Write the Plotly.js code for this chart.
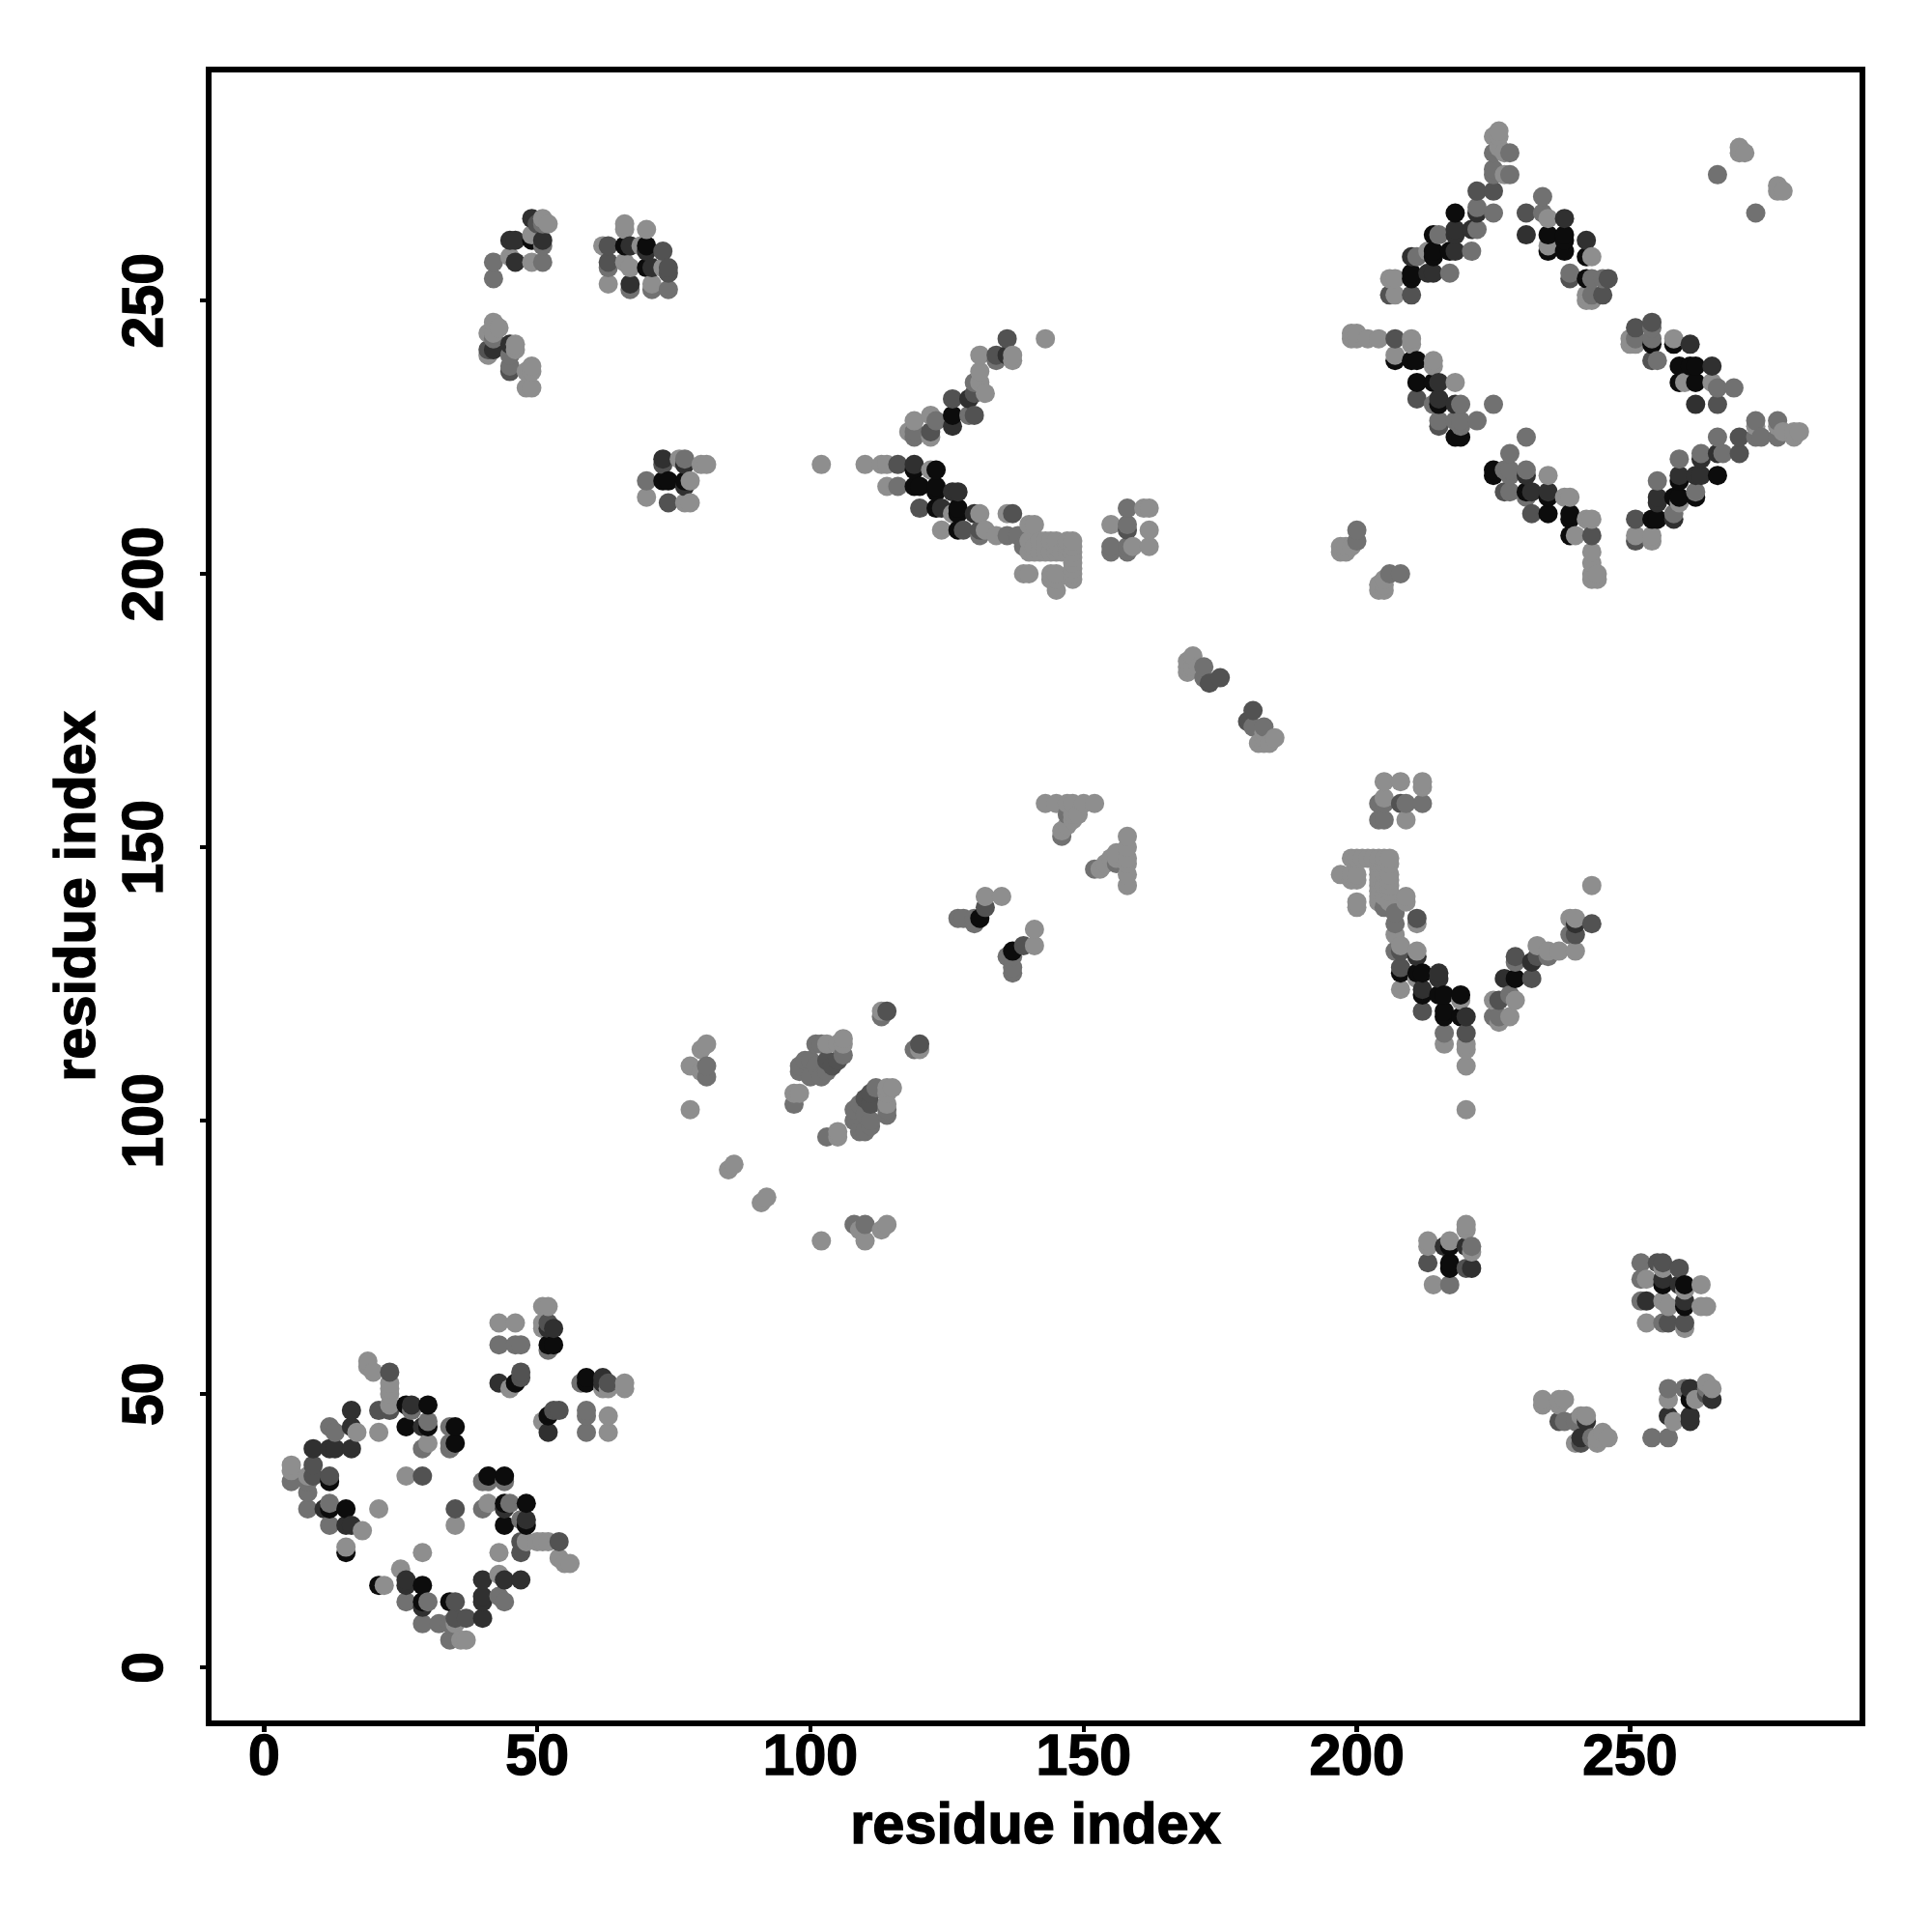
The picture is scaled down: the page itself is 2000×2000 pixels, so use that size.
<!DOCTYPE html>
<html>
<head>
<meta charset="utf-8">
<script src="https://cdn.plot.ly/plotly-3.0.1.min.js"></script>
<style>html,body{margin:0;padding:0;background:#fff;overflow:hidden}
#chart text{stroke:#000;stroke-width:1.4px}</style>
</head>
<body>
<div id="chart" style="width:2000px;height:2000px"></div>
<script>
const tickValues = [0, 50, 100, 150, 200, 250];
const axisLabel = "residue index";

// Residue pairs (i < j), grouped by grey level of the dot.
const contactsBlack = [[15,21],[12,34],[12,29],[15,29],[26,48],[30,48],[26,44],[30,44],[35,44],[35,41],[46,52],[52,59],[53,59],[49,261],[66,260],[70,260],[70,256],[73,217],[74,217],[77,217],[119,219],[119,216],[120,216],[123,219],[123,216],[123,215],[123,212],[127,212],[127,211],[127,208],[126,229],[131,137],[218,266],[214,262],[214,259],[214,258],[217,259],[210,255],[210,254],[235,262],[238,262],[238,261],[235,259],[238,259],[242,258],[242,254],[207,239],[210,239],[211,239],[211,235],[214,235],[215,231],[219,225],[218,225]];
const contactsDark = [[16,47],[16,44],[9,40],[12,40],[13,40],[16,40],[11,29],[15,26],[16,26],[29,44],[27,48],[43,52],[53,62],[52,62],[49,265],[45,261],[46,261],[51,261],[46,257],[67,260],[70,259],[71,256],[73,221],[77,220],[77,216],[42,241],[45,242],[67,253],[126,227],[129,232],[126,215],[127,215],[119,220],[124,212],[130,211],[136,240],[222,266],[218,263],[218,262],[221,263],[218,259],[214,255],[213,255],[210,258],[231,262],[238,265],[242,261],[215,235],[215,232],[218,231]];
const contactsMidDark = [[21,47],[23,54],[9,37],[9,35],[12,35],[29,35],[47,54],[47,53],[23,47],[52,63],[50,264],[63,260],[63,257],[73,259],[74,256],[74,255],[73,220],[41,241],[45,237],[74,213],[136,243],[134,240],[130,233],[126,232],[116,220],[120,212],[130,229],[131,208],[128,208],[137,211],[122,226],[158,208],[225,270],[210,251],[206,251],[222,270],[231,266],[239,254],[246,254],[245,251],[207,243],[211,232],[215,227],[132,139],[114,120],[104,110],[105,111],[103,111],[173,180],[175,181]];
const contactsMid = [[12,30],[12,26],[8,29],[8,34],[30,45],[34,44],[34,41],[34,40],[29,40],[5,34],[8,32],[12,44],[13,43],[27,47],[43,59],[46,59],[47,59],[52,58],[51,264],[51,260],[51,257],[42,257],[42,254],[42,243],[45,240],[45,238],[63,256],[74,252],[71,252],[67,252],[77,221],[70,217],[131,207],[134,239],[129,229],[123,228],[119,226],[119,225],[130,235],[138,207],[136,207],[139,205],[116,216],[155,205],[155,204],[158,209],[158,205],[158,204],[158,212],[225,277],[228,277],[225,274],[225,273],[228,273],[225,266],[222,267],[222,263],[221,259],[215,262],[211,258],[217,255],[234,269],[234,266],[239,255],[243,254],[245,254],[243,251],[215,228],[218,228],[219,228],[222,228],[219,227],[214,231],[219,231],[225,231],[266,273],[200,206],[200,208],[81,110],[81,108],[101,114],[102,114],[106,112],[100,111],[101,110],[98,110],[99,111],[98,109],[100,108],[102,108],[97,103],[103,109],[113,119],[130,137],[130,136],[127,137],[128,137],[146,152],[147,156],[172,183],[172,181]];
const contactsLight = [[19,56],[19,55],[20,54],[23,52],[23,51],[23,50],[23,48],[30,41],[17,43],[21,43],[18,25],[15,22],[26,35],[21,29],[5,37],[5,36],[8,35],[52,66],[51,66],[43,63],[46,63],[51,63],[51,62],[45,51],[49,262],[51,265],[52,264],[45,258],[49,257],[66,264],[66,263],[70,263],[62,260],[69,260],[66,257],[67,256],[73,256],[63,253],[71,253],[42,246],[43,245],[41,244],[42,244],[41,240],[46,242],[46,241],[49,238],[48,237],[49,237],[48,234],[49,234],[76,221],[80,220],[81,220],[78,217],[70,214],[77,213],[78,213],[143,243],[131,240],[137,240],[137,239],[131,237],[131,235],[132,233],[119,228],[122,229],[118,226],[122,225],[110,220],[113,220],[114,220],[122,219],[114,216],[126,211],[131,211],[124,208],[132,208],[134,207],[136,211],[140,209],[141,209],[140,204],[141,204],[142,204],[143,204],[144,204],[145,204],[146,204],[147,204],[141,205],[143,205],[145,205],[147,205],[140,206],[142,206],[143,206],[144,206],[145,206],[147,206],[148,206],[148,205],[148,204],[148,203],[148,202],[148,201],[148,200],[148,199],[139,200],[140,200],[144,200],[145,200],[144,199],[145,199],[145,197],[161,212],[162,212],[155,209],[162,208],[159,205],[162,205],[102,220],[226,281],[225,280],[226,280],[226,278],[227,277],[227,273],[213,259],[207,254],[206,254],[207,251],[235,265],[235,260],[243,258],[242,251],[242,250],[243,250],[199,244],[200,244],[199,243],[200,243],[202,243],[204,243],[210,243],[210,242],[207,240],[214,239],[214,238],[218,235],[270,278],[270,277],[271,277],[197,204],[197,205],[198,204],[198,205],[199,205],[81,114],[80,113],[78,110],[80,109],[78,102],[85,91],[86,92],[103,114],[105,114],[106,115],[106,114],[97,105],[98,105],[113,120],[132,141],[135,141],[143,158],[145,158],[147,158],[148,158],[150,158],[152,158],[146,153],[147,154],[148,155],[148,156],[149,156],[169,184],[170,185],[169,183],[170,183],[171,183],[169,182]];

const groups = [
  [contactsBlack, "#0c0c0c"],
  [contactsDark, "#303030"],
  [contactsMidDark, "#525252"],
  [contactsMid, "#717171"],
  [contactsLight, "#8e8e8e"]
];

// The map is symmetric: every pair is plotted both ways, in order of x then y.
const dots = [];
groups.forEach(([pairs, colour]) => pairs.forEach(([i, j]) => {
  dots.push({x: i, y: j, c: colour});
  dots.push({x: j, y: i, c: colour});
}));
dots.sort((a, b) => a.x - b.x || a.y - b.y);

const fontFamily = '"Liberation Sans", Arial, sans-serif';
const tickFont = {family: fontFamily, size: 59, color: "#000", weight: 700};
const titleFont = {family: fontFamily, size: 59.5, color: "#000", weight: 700};

function axis(range, extra) {
  return Object.assign({
    range: range,
    autorange: false,
    tickmode: "array",
    tickvals: tickValues,
    ticktext: tickValues.map(String),
    ticks: "outside",
    ticklen: 6,
    tickwidth: 4.5,
    tickcolor: "#000",
    showline: true,
    linewidth: 6,
    linecolor: "#000",
    mirror: true,
    showgrid: false,
    zeroline: false,
    automargin: false,
    tickfont: tickFont
  }, extra);
}

Plotly.newPlot("chart", [{
  type: "scatter",
  mode: "markers",
  x: dots.map(d => d.x),
  y: dots.map(d => d.y),
  marker: {size: 20, color: dots.map(d => d.c), line: {width: 0}},
  hoverinfo: "x+y"
}], {
  width: 2000,
  height: 2000,
  margin: {l: 219, r: 75, t: 75, b: 219, pad: 0},
  paper_bgcolor: "#fff",
  plot_bgcolor: "#fff",
  showlegend: false,
  xaxis: axis([-9.6, 292], {
    tickangle: 0,
    ticklabelstandoff: -27,
    title: {text: axisLabel, font: titleFont, standoff: 20}
  }),
  yaxis: axis([-9.7, 291.7], {
    tickangle: -90,
    ticklabelstandoff: 15,
    ticklabelshift: 9,
    title: {text: axisLabel, font: titleFont, standoff: 0}
  })
}, {displayModeBar: false, staticPlot: true});
</script>
</body>
</html>
